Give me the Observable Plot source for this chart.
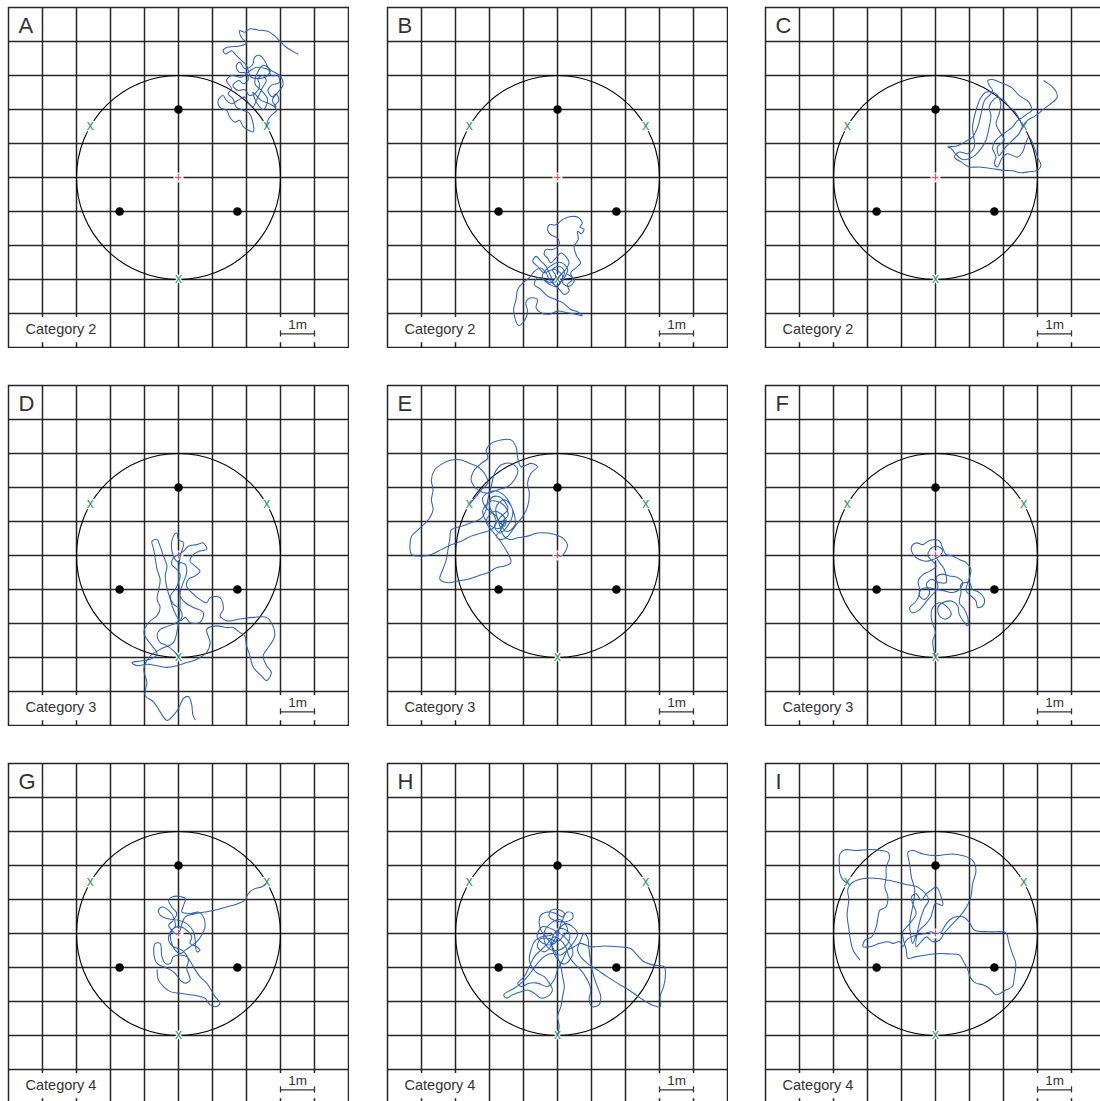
<!DOCTYPE html>
<html><head><meta charset="utf-8">
<script src="https://cdn.jsdelivr.net/npm/d3@7"></script>
<script src="https://cdn.jsdelivr.net/npm/@observablehq/plot@0.6"></script>
<style>
html,body{margin:0;padding:0;background:#fff;}
#wrap{position:relative;width:1100px;height:1101px;overflow:hidden;background:#fff;}
.panel{position:absolute;}
</style></head><body><div id="wrap"></div>
<script>
// ---- data ----
const panelLetters = ["A","B","C","D","E","F","G","H","I"];
const panelCategories = ["Category 2","Category 2","Category 2","Category 3","Category 3","Category 3","Category 4","Category 4","Category 4"];
const gridTicks = [-4,-3,-2,-1,0,1,2,3,4];
const arena = [{x:0, y:0, radius:3}];
const objects = [{x:0, y:2}, {x:-1.732, y:-1}, {x:1.732, y:-1}];
const releasePoints = [{x:-2.598, y:1.5}, {x:2.598, y:1.5}, {x:0, y:-3}];
const centre = [{x:0, y:0}];
const scaleLabel = "1m";

const trackA = [[2.58,1.49],[2.63,1.68],[2.73,1.83],[2.89,1.98],[2.82,2.09],[2.95,2.27],[2.87,2.46],[2.76,2.37],[2.63,2.56],[2.73,2.71],[2.97,2.80],[2.92,3.0],[2.73,3.0],[2.63,3.24],[2.53,3.44],[2.39,3.59],[2.24,3.54],[2.19,3.34],[2.09,3.24],[1.95,3.2],[1.8,3.39],[1.7,3.29],[1.78,3.1],[2.0,3.07],[2.04,2.85],[1.9,2.76],[1.78,2.85],[1.6,2.71],[1.75,2.56],[1.95,2.58],[2.09,2.41],[2.29,2.51],[2.39,2.71],[2.34,2.9],[2.48,3.0],[2.58,2.85],[2.48,2.66],[2.29,2.27],[2.19,2.07],[2.04,2.22],[1.95,2.37],[1.75,2.27],[1.56,2.17],[1.41,2.27],[1.31,2.41],[1.17,2.27],[1.21,2.07],[1.41,1.98],[1.51,1.78],[1.65,1.63],[1.8,1.68],[1.9,1.5],[2.0,1.42],[2.2,1.35],[2.09,1.88],[1.9,1.98],[1.7,2.07],[1.6,2.32],[1.46,2.46],[1.56,2.61],[1.41,2.85],[1.56,3.0],[1.85,2.95],[2.09,3.13],[2.29,3.24],[2.58,3.2],[2.82,3.1],[3.02,2.95],[3.07,2.71],[2.97,2.56],[2.76,2.27],[2.87,2.07],[2.68,2.17],[2.43,2.27],[2.19,2.51],[2.3,2.2],[2.5,2.0],[2.62,2.3],[2.45,2.55],[2.25,2.75],[2.32,3.08],[2.5,3.3],[2.7,3.15],[2.55,2.95],[2.14,2.95],[2.0,3.29],[1.8,3.49],[1.7,3.59],[1.56,3.73],[1.39,3.63],[1.31,3.73],[1.43,3.83],[1.65,3.85],[1.85,3.88],[2.0,3.95],[1.85,4.12],[1.8,4.32],[1.95,4.27],[2.09,4.37],[2.34,4.34],[2.63,4.3],[2.82,4.17],[2.97,4.02],[3.17,3.83],[3.36,3.71],[3.51,3.63]];

const trackB = [[0,-3],[0.1,-2.85],[0.24,-2.71],[0.34,-2.51],[0.24,-2.32],[0.1,-2.22],[-0.05,-2.37],[-0.2,-2.51],[-0.29,-2.37],[-0.39,-2.27],[-0.34,-2.12],[-0.15,-2.12],[0.05,-1.98],[0,-1.78],[-0.2,-1.68],[-0.29,-1.54],[-0.24,-1.39],[-0.05,-1.39],[0.15,-1.24],[0.39,-1.15],[0.6,-1.17],[0.73,-1.34],[0.66,-1.46],[0.78,-1.52],[0.7,-1.65],[0.59,-1.58],[0.61,-1.83],[0.49,-2.02],[0.57,-2.32],[0.68,-2.51],[0.54,-2.66],[0.39,-2.8],[0.44,-3.0],[0.29,-3.15],[0.34,-3.34],[0.2,-3.44],[0.05,-3.29],[-0.1,-3.15],[-0.24,-3.0],[-0.34,-2.8],[-0.49,-2.66],[-0.68,-2.76],[-0.83,-2.95],[-1.02,-3.1],[-1.17,-3.29],[-1.22,-3.59],[-1.29,-3.9],[-1.15,-4.35],[-1.0,-4.25],[-0.88,-3.95],[-0.93,-3.68],[-0.78,-3.54],[-0.59,-3.59],[-0.63,-3.83],[-0.49,-3.98],[-0.24,-4.02],[0,-3.93],[0.29,-3.98],[0.54,-4.02],[0.73,-4.07],[0.59,-3.95],[0.39,-3.88],[0.15,-3.68],[-0.05,-3.59],[-0.29,-3.49],[-0.49,-3.29],[-0.68,-3.15],[-0.59,-2.95],[-0.39,-3.0],[-0.2,-3.1],[-0.05,-2.9],[-0.15,-2.71],[0.05,-2.61],[0.2,-2.76],[0.1,-3.05],[-0.05,-3.2],[-0.2,-2.9],[-0.34,-2.61],[-0.49,-2.46],[-0.63,-2.32],[-0.73,-2.46],[-0.59,-2.61],[-0.4,-2.8],[-0.1,-2.7],[0.15,-2.9],[0.0,-3.2],[-0.3,-3.1],[-0.45,-2.9],[-0.2,-2.6],[0.1,-2.5],[0.3,-2.7],[0.15,-3.1],[0.35,-3.2],[0.5,-3.0],[0.3,-2.85]];

const trackC = [[2.56,1.5],[2.46,1.73],[2.31,1.97],[2.17,2.07],[2.02,2.26],[1.82,2.36],[1.68,2.26],[1.58,2.07],[1.63,1.82],[1.58,1.48],[1.48,1.09],[1.34,0.85],[1.09,0.6],[0.8,0.53],[0.6,0.68],[0.46,0.85],[0.36,0.9],[0.6,0.92],[0.85,1.04],[1.09,1.19],[1.24,1.48],[1.34,1.87],[1.44,2.26],[1.58,2.41],[1.68,2.56],[1.58,2.71],[1.54,2.85],[1.68,2.88],[1.87,2.81],[2.07,2.73],[2.26,2.63],[2.41,2.46],[2.56,2.34],[2.7,2.26],[2.8,2.12],[2.83,1.97],[2.7,1.87],[2.56,1.77],[2.41,1.67],[2.26,1.48],[2.07,1.34],[1.87,1.19],[1.73,1.04],[1.68,0.85],[1.78,0.6],[1.73,0.41],[1.82,0.31],[1.97,0.6],[2.12,0.7],[2.26,0.65],[2.41,0.6],[2.56,0.75],[2.65,1.0],[2.75,1.19],[2.9,0.9],[3.0,0.6],[3.1,0.36],[3.0,0.21],[2.75,0.17],[2.51,0.14],[2.26,0.2],[2.02,0.21],[1.68,0.26],[1.29,0.31],[0.99,0.31],[0.75,0.46],[0.56,0.6],[0.7,0.75],[0.95,0.7],[1.14,0.9],[1.09,1.48],[1.19,1.97],[1.34,2.36],[1.48,2.51],[1.78,2.46],[1.92,2.16],[1.87,1.87],[1.78,1.58],[1.87,1.38],[2.02,1.09],[1.82,0.9],[1.87,0.65],[2.07,0.9],[2.26,1.09],[2.46,1.29],[2.56,1.5],[2.7,1.68],[2.95,1.82],[3.19,2.02],[3.39,2.17],[3.58,2.36],[3.53,2.56],[3.39,2.71],[3.24,2.81],[3.19,2.85]];

const trackD = [[0,-2.97],[-0.15,-2.8],[-0.34,-2.65],[-0.54,-2.56],[-0.63,-2.36],[-0.54,-2.17],[-0.29,-2.07],[-0.05,-1.97],[0.1,-1.82],[0.05,-1.58],[-0.15,-1.43],[-0.24,-1.19],[-0.1,-1.0],[0,-0.8],[0.05,-0.56],[-0.05,-0.41],[-0.2,-0.26],[-0.15,-0.07],[0,0.03],[0.15,0.13],[0.29,0.27],[0.54,0.32],[0.73,0.37],[0.83,0.18],[0.63,0.13],[0.44,0.03],[0.34,-0.17],[0.49,-0.31],[0.63,-0.46],[0.49,-0.6],[0.29,-0.7],[0.24,-0.9],[0.39,-1.09],[0.63,-1.29],[0.83,-1.39],[0.93,-1.24],[1.22,-1.24],[1.32,-1.58],[1.22,-1.77],[1.41,-1.92],[1.8,-1.87],[2.2,-1.82],[2.59,-1.82],[2.73,-1.97],[2.83,-2.36],[2.68,-2.65],[2.49,-2.95],[2.59,-3.24],[2.73,-3.44],[2.59,-3.68],[2.44,-3.54],[2.2,-3.29],[2.1,-2.95],[2.0,-2.65],[1.95,-2.36],[1.8,-2.26],[1.61,-2.12],[1.41,-2.12],[1.12,-2.07],[0.83,-2.17],[0.93,-2.56],[0.83,-2.85],[0.54,-3.05],[0.24,-3.15],[-0.05,-3.24],[-0.34,-3.29],[-0.63,-3.24],[-0.93,-3.2],[-1.22,-3.24],[-1.37,-3.15],[-1.12,-3.1],[-0.83,-3.05],[-0.63,-2.9],[-0.78,-2.65],[-0.93,-2.46],[-1.02,-2.26],[-0.88,-1.97],[-0.63,-1.77],[-0.54,-1.53],[-0.63,-1.29],[-0.58,-1.0],[-0.54,-0.7],[-0.63,-0.41],[-0.68,-0.12],[-0.73,0.18],[-0.78,0.42],[-0.63,0.47],[-0.54,0.27],[-0.44,-0.02],[-0.34,-0.31],[-0.39,-0.6],[-0.34,-0.95],[-0.24,-1.29],[-0.15,-1.58],[0.05,-1.92],[0.2,-1.82],[0.34,-1.97],[0.63,-1.97],[0.73,-1.68],[0.44,-1.53],[0.2,-1.39],[0.05,-1.19],[0.1,-0.9],[0.24,-0.5],[0.2,-0.26],[-0.05,-0.17],[-0.2,0.18],[-0.15,0.57],[-0.05,0.66],[0,0.47],[0.15,0.37],[0.05,-0.02],[0,-0.6],[0.05,-1.39],[-0.05,-2.26],[-0.15,-2.56],[-0.54,-2.76],[-0.83,-2.95],[-1.02,-3.34],[-0.93,-3.73],[-0.98,-4.12],[-0.73,-4.31],[-0.54,-4.6],[-0.34,-4.85],[-0.15,-4.7],[0,-4.5],[0.15,-4.2],[0.29,-4.15],[0.39,-4.39],[0.42,-4.68],[0.49,-4.83]];

const trackE = [[-2.56,1.54],[-2.39,1.74],[-2.24,1.93],[-2.05,2.13],[-2.15,2.42],[-2.34,2.61],[-2.59,2.71],[-2.83,2.81],[-3.12,2.81],[-3.37,2.71],[-3.61,2.52],[-3.71,2.22],[-3.66,1.93],[-3.71,1.64],[-3.66,1.35],[-3.8,1.05],[-4.1,0.76],[-4.29,0.57],[-4.34,0.27],[-4.29,0.03],[-4.0,-0.02],[-3.71,0.03],[-3.41,0.18],[-3.12,0.32],[-2.83,0.42],[-2.54,0.57],[-2.24,0.66],[-1.95,0.76],[-1.8,0.96],[-1.9,1.25],[-2.0,1.44],[-1.95,1.69],[-1.76,1.74],[-1.56,1.59],[-1.46,1.35],[-1.66,1.15],[-1.85,0.86],[-1.7,0.66],[-1.41,0.96],[-1.32,1.35],[-1.56,1.64],[-1.8,1.44],[-1.75,1.05],[-1.56,0.86],[-1.51,1.05],[-1.66,0.76],[-1.8,0.57],[-1.66,0.47],[-1.46,0.57],[-1.32,0.76],[-1.17,0.96],[-1.02,1.15],[-0.88,1.44],[-0.83,1.83],[-0.88,2.13],[-0.78,2.42],[-0.59,2.61],[-0.78,2.71],[-1.07,2.61],[-1.17,2.86],[-1.22,3.2],[-1.37,3.4],[-1.66,3.4],[-1.95,3.3],[-2.1,3.1],[-2.05,2.86],[-2.24,2.71],[-2.44,2.52],[-2.54,2.22],[-2.34,1.93],[-2.05,1.83],[-1.76,1.93],[-1.46,2.03],[-1.27,2.22],[-1.17,2.52],[-1.37,2.71],[-1.66,2.66],[-1.85,2.42],[-1.95,2.03],[-2.05,1.64],[-2.1,1.35],[-2.24,1.1],[-2.54,0.96],[-2.83,0.86],[-3.12,0.76],[-3.17,0.47],[-3.22,0.18],[-3.27,-0.12],[-3.37,-0.41],[-3.46,-0.7],[-3.22,-0.8],[-2.93,-0.75],[-2.63,-0.7],[-2.34,-0.6],[-2.05,-0.51],[-1.8,-0.36],[-1.56,-0.31],[-1.37,-0.21],[-1.6,0.3],[-1.9,0.7],[-2.1,1.0],[-1.85,1.3],[-1.55,1.1],[-1.7,0.8],[-2.0,0.9],[-2.2,1.3],[-1.95,1.6],[-1.6,1.5],[-1.45,1.2],[-1.65,0.95],[-1.5,0.7],[-1.25,0.9],[-1.3,1.3],[-1.6,1.8],[-1.9,1.9],[-2.2,1.7],[-2.1,1.4],[-1.8,1.15],[-1.6,0.6],[-1.41,0.47],[-1.17,0.52],[-0.88,0.57],[-0.59,0.66],[-0.29,0.66],[-0.05,0.61],[0.15,0.52],[0.29,0.32],[0.24,0.13],[0.1,-0.02],[0,0.03]];

const trackF = [[0,-2.97],[-0.06,-2.75],[-0.08,-2.51],[0,-2.26],[-0.08,-2.02],[-0.13,-1.78],[-0.08,-1.53],[0.12,-1.39],[0.31,-1.48],[0.46,-1.73],[0.31,-1.87],[0.12,-1.78],[0.07,-1.53],[0.21,-1.39],[0.46,-1.34],[0.65,-1.48],[0.7,-1.73],[0.85,-1.97],[0.95,-2.07],[0.95,-1.83],[0.85,-1.58],[0.7,-1.39],[0.75,-1.09],[0.75,-0.85],[1.0,-0.8],[1.09,-1.0],[1.29,-1.09],[1.44,-1.29],[1.39,-1.48],[1.24,-1.53],[1.19,-1.34],[1.05,-1.19],[0.9,-1.04],[1.0,-0.65],[1.04,-0.41],[0.9,-0.21],[0.7,-0.12],[0.51,-0.02],[0.31,0.03],[0.21,0.22],[0.12,0.42],[-0.03,0.47],[-0.22,0.42],[-0.37,0.32],[-0.56,0.37],[-0.7,0.27],[-0.66,0.03],[-0.47,-0.12],[-0.27,-0.17],[-0.08,-0.12],[0.12,-0.02],[0.2,0.17],[0.02,0.27],[-0.17,0.17],[-0.22,-0.02],[-0.08,-0.17],[0.02,-0.31],[-0.17,-0.46],[-0.37,-0.56],[-0.51,-0.75],[-0.47,-1.0],[-0.51,-1.24],[-0.61,-1.39],[-0.76,-1.53],[-0.7,-1.68],[-0.51,-1.63],[-0.37,-1.48],[-0.22,-1.29],[-0.08,-1.14],[0.07,-0.95],[0.02,-0.65],[0.16,-0.55],[0.41,-0.6],[0.65,-0.65],[0.8,-0.8],[0.7,-1.0],[0.51,-1.09],[0.26,-1.04],[0.02,-1.0],[-0.22,-0.95],[-0.42,-1.0],[-0.47,-1.19],[-0.32,-1.29],[-0.17,-1.09],[-0.27,-0.85],[-0.12,-0.7],[0.12,-0.8],[0.31,-0.8],[0.26,-0.41],[0.12,-0.21],[0,-0.02]];

const trackG = [[2.57,1.46],[2.44,1.37],[2.24,1.32],[2.05,1.17],[1.95,0.98],[1.71,0.86],[1.41,0.78],[1.12,0.7],[0.78,0.63],[0.44,0.57],[0.2,0.49],[0.1,0.29],[0.05,0.1],[-0.05,-0.02],[-0.2,0.1],[-0.29,0.24],[-0.15,0.39],[-0.05,0.59],[-0.2,0.78],[-0.29,0.98],[-0.2,1.07],[0.05,1.09],[0.2,1.02],[0.15,0.83],[0.1,0.63],[0.34,0.59],[0.59,0.63],[0.73,0.49],[0.78,0.2],[0.68,-0.05],[0.54,-0.24],[0.34,-0.39],[0.2,-0.49],[0.05,-0.59],[-0.1,-0.49],[-0.2,-0.29],[-0.24,-0.05],[-0.15,0.15],[0.05,0.2],[0.24,0.1],[0.39,-0.1],[0.34,-0.29],[0.54,-0.39],[0.63,-0.49],[0.54,-0.54],[0.49,-0.2],[0.44,0.05],[0.24,0.29],[0,0.39],[-0.34,0.44],[-0.54,0.54],[-0.59,0.68],[-0.49,0.78],[-0.29,0.68],[-0.15,0.49],[-0.1,0.2],[-0.24,0.05],[-0.29,-0.2],[-0.15,-0.39],[0.1,-0.49],[0.29,-0.78],[0.24,-1.02],[0.34,-1.37],[0.2,-1.46],[0.05,-1.37],[-0.1,-1.17],[-0.24,-1.07],[-0.44,-0.98],[-0.63,-0.88],[-0.73,-0.49],[-0.68,-0.29],[-0.54,-0.29],[-0.49,-0.68],[-0.39,-0.88],[-0.24,-0.88],[-0.15,-0.68],[0.05,-0.63],[0.24,-0.68],[0.44,-0.98],[0.63,-1.27],[0.83,-1.46],[0.93,-1.61],[1.07,-1.85],[1.22,-2.05],[1.12,-2.15],[0.93,-2.1],[0.78,-1.9],[0.63,-1.85],[0.34,-1.8],[0.05,-1.76],[-0.24,-1.71],[-0.44,-1.56],[-0.59,-1.37],[-0.63,-1.07]];

const trackH = [[0,-3.0],[0.05,-2.73],[0,-2.44],[0.1,-2.15],[0.15,-1.85],[0.2,-1.56],[0.15,-1.27],[0.1,-0.98],[0,-0.68],[-0.1,-0.49],[-0.2,-0.29],[-0.34,-0.1],[-0.49,0.1],[-0.54,0.34],[-0.49,0.54],[-0.29,0.63],[-0.05,0.59],[0.15,0.49],[0.29,0.63],[0.44,0.59],[0.44,0.44],[0.2,0.34],[-0.1,0.39],[-0.24,0.49],[-0.2,0.68],[0.05,0.7],[0.2,0.59],[0.1,0.29],[0,0.05],[-0.2,-0.05],[-0.49,-0.1],[-0.68,-0.24],[-0.78,-0.49],[-0.83,-0.78],[-0.73,-1.02],[-0.59,-1.17],[-0.39,-1.27],[-0.24,-1.46],[-0.15,-1.66],[-0.29,-1.85],[-0.49,-1.9],[-0.68,-1.76],[-0.88,-1.66],[-1.07,-1.71],[-1.32,-1.8],[-1.51,-1.9],[-1.58,-1.8],[-1.46,-1.71],[-1.27,-1.61],[-1.07,-1.46],[-0.88,-1.27],[-0.73,-1.07],[-0.59,-0.88],[-0.39,-0.68],[-0.2,-0.59],[0.1,-0.63],[0.29,-0.49],[0.49,-0.39],[0.68,-0.29],[0.98,-0.39],[1.37,-0.37],[1.76,-0.39],[2.15,-0.44],[2.34,-0.63],[2.54,-0.83],[2.83,-0.93],[3.14,-0.98],[3.17,-1.27],[3.12,-1.56],[3.02,-1.85],[3.02,-2.15],[2.78,-2.1],[2.44,-1.9],[2.1,-1.66],[1.76,-1.46],[1.46,-1.27],[1.17,-1.07],[0.88,-0.88],[0.68,-0.68],[0.59,-0.49],[0.68,-0.2],[0.78,0],[0.88,-0.1],[0.93,-0.49],[0.98,-0.88],[1.07,-1.27],[1.17,-1.56],[1.27,-1.85],[1.22,-2.1],[1.02,-2.15],[0.93,-1.95],[0.98,-1.66],[0.88,-1.37],[0.68,-1.07],[0.49,-0.88],[0.34,-0.68],[0.24,-0.39],[0.1,-0.2],[-0.1,-0.1],[-0.29,-0.29],[-0.49,-0.49],[-0.68,-0.68],[-0.83,-0.98],[-0.98,-1.27],[-1.17,-1.46],[-1.07,-1.56],[-0.83,-1.46],[-0.59,-1.46],[-0.29,-1.56],[-0.1,-1.37],[0,-1.07],[0.15,-0.78],[0.29,-0.49],[0.49,-0.24],[0.59,0],[0.44,0.2],[0.24,0.29],[0.1,0.2],[-0.05,-0.1],[-0.2,-0.39],[-0.39,-0.54],[-0.59,-0.39],[-0.49,-0.15],[-0.24,-0.15],[0,-0.24],[0.15,-0.1],[0.3,0.1],[0.1,0.4],[-0.2,0.3],[-0.4,0.0],[-0.3,-0.4],[0.0,-0.5],[0.3,-0.3],[0.35,0.0],[0.1,0.15],[-0.15,-0.1],[-0.1,-0.6],[0.2,-0.9],[0.45,-0.6],[0.3,-0.2],[-0.1,0.1],[-0.45,0.2],[-0.6,-0.1],[-0.4,-0.3],[-0.1,-0.3],[0.05,0.05]];

const trackI = [[-2.57,1.48],[-2.71,1.56],[-2.81,1.76],[-2.83,2.05],[-2.81,2.34],[-2.67,2.46],[-2.33,2.44],[-1.93,2.47],[-1.59,2.44],[-1.4,2.39],[-1.35,2.24],[-1.45,1.95],[-1.45,1.66],[-1.49,1.37],[-1.4,1.07],[-1.46,0.78],[-1.64,0.68],[-1.69,0.49],[-1.74,0.2],[-1.88,-0.1],[-2.08,-0.2],[-2.13,-0.39],[-1.93,-0.39],[-1.64,-0.29],[-1.4,-0.24],[-1.25,-0.29],[-1.05,-0.24],[-0.96,-0.39],[-0.86,-0.2],[-0.71,-0.1],[-0.57,-0.05],[-0.32,0],[-0.13,0.05],[0,0],[0.17,0.05],[0.26,0.2],[0.41,0.39],[0.6,0.49],[0.8,0.49],[0.99,0.34],[1.14,0.1],[1.58,0.05],[2.07,0.02],[2.15,-0.24],[2.26,-0.59],[2.36,-0.88],[2.32,-1.27],[2.26,-1.56],[2.07,-1.66],[1.78,-1.8],[1.58,-1.61],[1.39,-1.51],[1.19,-1.46],[1.04,-1.32],[0.95,-1.07],[0.8,-0.78],[0.7,-0.63],[0.41,-0.6],[0.12,-0.59],[-0.27,-0.63],[-0.57,-0.68],[-0.81,-0.73],[-0.86,-0.49],[-0.96,-0.1],[-0.96,0.05],[-0.76,0.29],[-0.57,0.59],[-0.67,0.88],[-0.71,1.07],[-0.57,1.17],[-0.42,0.98],[-0.27,1.17],[-0.13,1.27],[0.02,1.37],[0.17,1.07],[0.21,0.83],[0,0.88],[-0.08,0.68],[-0.13,0.49],[-0.27,0.29],[-0.47,0.1],[-0.57,-0.05],[-0.67,-0.29],[-0.76,0.29],[-0.71,0.59],[-0.61,1.27],[-0.71,1.66],[-0.76,2.05],[-0.81,2.39],[-0.66,2.44],[-0.37,2.34],[0.02,2.29],[0.48,2.34],[0.8,2.29],[1.09,2.15],[1.19,1.85],[1.09,1.46],[1.04,1.07],[0.85,0.68],[0.7,0.49],[0.51,0.29],[0.26,0.02],[0.12,-0.2],[-0.08,-0.24],[-0.27,-0.1],[-0.42,-0.24],[-0.57,-0.39],[-0.5,0.2],[-0.35,0.7],[-0.2,1.0],[-0.5,1.35],[-0.9,1.45],[-1.3,1.55],[-1.7,1.62],[-2.1,1.62],[-2.45,1.5],[-2.58,1.3],[-2.55,1.0],[-2.6,0.55],[-2.55,0.15],[-2.5,-0.2],[-2.42,-0.5],[-2.22,-0.78]];

const tracks = [trackA, trackB, trackC, trackD, trackE, trackF, trackG, trackH, trackI];

// ---- layout (not data) ----
const PANEL = 340, M = 1, STEP_X = 378.5, STEP_Y = 378, LEFT0 = 8, TOP0 = 7;
const GRID = "#262626", TRACK = "#2d62b8", GREEN = "#2f9a5e", RED = "#e0566a", TEXT = "#333";
const FONT = "'Liberation Sans', Arial, Helvetica, sans-serif";
const labelBoxes = [{x1:-4.9, x2:-2.3, y1:-4.86, y2:-4.12}, {x1:2.35, x2:4.95, y1:-4.86, y2:-4.12}];
const catPos = {x:-4.5, y:-4.46};
const barPos = {x1:3, x2:4, y:-4.6, tick:0.09, labelY:-4.33};

const wrap = document.getElementById("wrap");
tracks.forEach((tr, i) => {
  const pts = tr.map(([x, y]) => ({x, y}));
  const col = i % 3, row = Math.floor(i / 3);
  const chart = Plot.plot({
    width: PANEL + 2 * M, height: PANEL + 2 * M, margin: M,
    style: {fontFamily: FONT, background: "white", color: TEXT},
    x: {domain: [-5, 5], axis: null},
    y: {domain: [-5, 5], axis: null},
    r: {type: "linear", domain: [0, 5], range: [0, PANEL / 2]},
    marks: [
      Plot.ruleX(gridTicks, {stroke: GRID, strokeWidth: 1.5}),
      Plot.ruleY(gridTicks, {stroke: GRID, strokeWidth: 1.5}),
      Plot.rect(labelBoxes, {x1: "x1", x2: "x2", y1: "y1", y2: "y2", fill: "white", inset: 0}),
      Plot.dot(arena, {x: "x", y: "y", r: "radius", stroke: "black", strokeWidth: 1.1, fill: "none"}),
      Plot.text(releasePoints, {x: "x", y: "y", text: () => "x", fill: GREEN, stroke: "white", strokeWidth: 2.5, paintOrder: "stroke", fontSize: 14, dy: -1}),
      Plot.dot(objects, {x: "x", y: "y", r: 4.3, fill: "black"}),
      Plot.dot(centre, {x: "x", y: "y", r: 5, fill: "white"}),
      Plot.ruleX(centre, {x: "x", y1: d => d.y - 0.1, y2: d => d.y + 0.1, stroke: RED, strokeWidth: 1.3}),
      Plot.ruleY(centre, {y: "y", x1: d => d.x - 0.1, x2: d => d.x + 0.1, stroke: RED, strokeWidth: 1.3}),
      Plot.line(pts, {x: "x", y: "y", stroke: TRACK, strokeWidth: 1.05, curve: "catmull-rom"}),
      Plot.text([panelLetters[i]], {frameAnchor: "top-left", dx: 10, dy: 10, fontSize: 22, fill: TEXT}),
      Plot.text([panelCategories[i]], {x: () => catPos.x, y: () => catPos.y, textAnchor: "start", fontSize: 14.5, fill: TEXT}),
      Plot.ruleY([barPos], {x1: "x1", x2: "x2", y: "y", stroke: TEXT, strokeWidth: 1.3}),
      Plot.ruleX([barPos.x1, barPos.x2], {y1: barPos.y - barPos.tick, y2: barPos.y + barPos.tick, stroke: TEXT, strokeWidth: 1.3}),
      Plot.text([scaleLabel], {x: (barPos.x1 + barPos.x2) / 2, y: barPos.labelY, fontSize: 13.5, fill: TEXT}),
      Plot.frame({stroke: GRID, strokeWidth: 1.5})
    ]
  });
  chart.classList.add("panel");
  chart.style.left = (LEFT0 - M + col * STEP_X) + "px";
  chart.style.top = (TOP0 - M + row * STEP_Y) + "px";
  wrap.appendChild(chart);
});
</script>
</body></html>
